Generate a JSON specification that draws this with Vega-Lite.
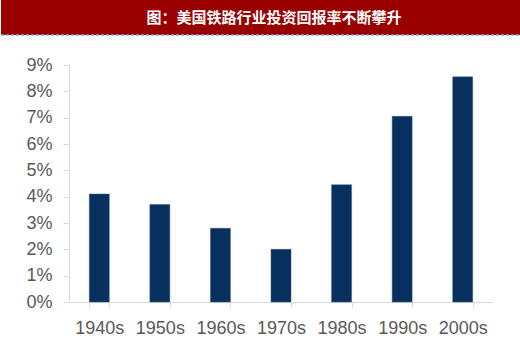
{
  "$schema": "https://vega.github.io/schema/vega-lite/v6.json",
  "padding": 0,
  "spacing": 20,
  "background": "white",
  "config": {"view": {"stroke": null}, "font": "Liberation Sans"},
  "vconcat": [
    {
      "width": 452,
      "height": 35,
      "data": {"values": [{"start": 0, "end": 1, "base": 0, "title": "图：美国铁路行业投资回报率不断攀升"}]},
      "layer": [
        {
          "mark": {"type": "rect", "color": "#990000"},
          "encoding": {
            "x": {"field": "start", "type": "quantitative", "scale": {"domain": [0.130769, 1], "nice": false, "zero": false}, "axis": null},
            "x2": {"field": "end"}
          }
        },
        {
          "mark": {"type": "rule", "color": "#86a2de", "strokeWidth": 1.5, "strokeDash": [3, 2]},
          "encoding": {
            "x": {"field": "start", "type": "quantitative"},
            "x2": {"field": "end"},
            "y": {"field": "base", "type": "quantitative", "scale": {"domain": [0, 1]}, "axis": null}
          }
        },
        {
          "mark": {"type": "text", "color": "white", "font": "Noto Sans CJK SC", "fontSize": 15, "fontWeight": "bold", "dx": -21},
          "encoding": {"text": {"field": "title", "type": "nominal"}}
        }
      ]
    },
    {
      "width": 424,
      "height": 237,
      "data": {
        "values": [
          {"decade": "1940s", "rate": 0.041},
          {"decade": "1950s", "rate": 0.037},
          {"decade": "1960s", "rate": 0.028},
          {"decade": "1970s", "rate": 0.020},
          {"decade": "1980s", "rate": 0.0445},
          {"decade": "1990s", "rate": 0.0705},
          {"decade": "2000s", "rate": 0.0855}
        ]
      },
      "mark": {"type": "bar", "color": "#07305f", "stroke": "#3a5c85", "strokeWidth": 0.5},
      "encoding": {
        "x": {
          "field": "decade",
          "type": "nominal",
          "sort": null,
          "scale": {"paddingInner": 0.67, "paddingOuter": 0.335},
          "axis": {
            "title": null,
            "labelAngle": 0,
            "tickBand": "extent",
            "domainColor": "#d9d9d9",
            "tickColor": "#d9d9d9",
            "tickSize": 5,
            "labelFontSize": 18,
            "labelColor": "#595959",
            "labelPadding": 12
          }
        },
        "y": {
          "field": "rate",
          "type": "quantitative",
          "scale": {"domain": [0, 0.09]},
          "axis": {
            "title": null,
            "values": [0, 0.01, 0.02, 0.03, 0.04, 0.05, 0.06, 0.07, 0.08, 0.09],
            "format": ".0%",
            "grid": false,
            "domainColor": "#d9d9d9",
            "tickColor": "#d9d9d9",
            "tickSize": 6,
            "labelFontSize": 18,
            "labelColor": "#595959",
            "labelPadding": 11,
            "minExtent": 68
          }
        }
      }
    }
  ]
}
